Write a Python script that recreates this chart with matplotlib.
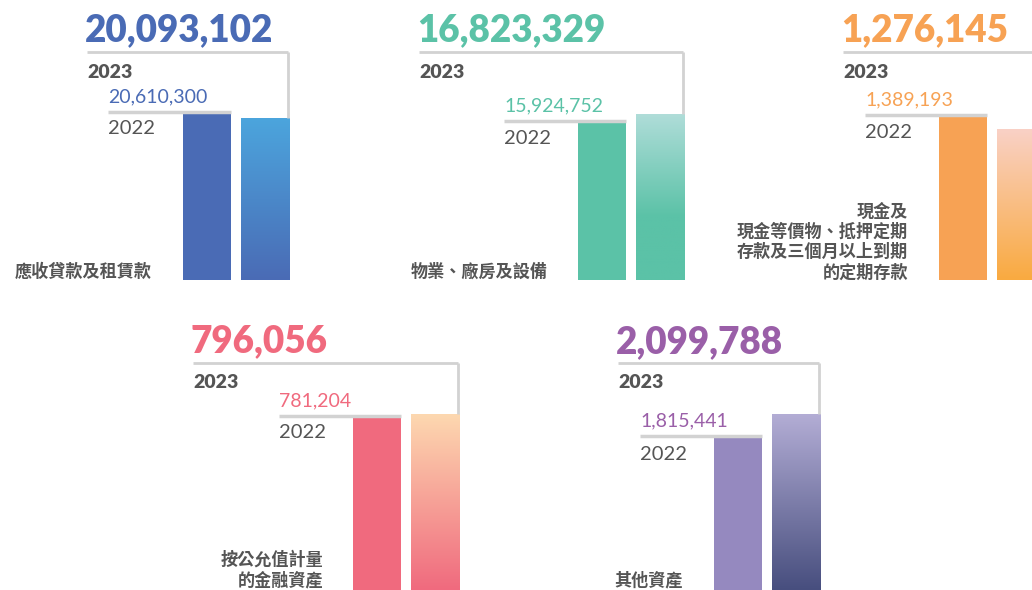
import matplotlib
matplotlib.use('Agg')
import matplotlib.pyplot as plt
import numpy as np
from matplotlib.colors import LinearSegmentedColormap

# ---------------- data ----------------
categories = ['應收貸款及租賃款',
              '物業、廠房及設備',
              '現金及\n現金等價物、抵押定期\n存款及三個月以上到期\n的定期存款',
              '按公允值計量\n的金融資產',
              '其他資產']
years = ['2022', '2023']
values_2022 = [20610300, 15924752, 1389193, 781204, 1815441]
values_2023 = [20093102, 16823329, 1276145, 796056, 2099788]

# ---------------- styles ----------------
text_colors = ['#4a6bb5', '#5bc2a7', '#f7a254', '#f06a7e', '#9a5fa8']
solid_colors = ['#4a6bb5', '#5bc2a7', '#f7a254', '#f06a7e', '#9589bf']
grad_stops = [
    [(0.0, '#4ca5dd'), (1.0, '#4a6bb5')],
    [(0.0, '#b0ddd9'), (0.62, '#5bc2a7'), (1.0, '#5bc2a7')],
    [(0.0, '#fad1c6'), (1.0, '#f9aa40')],
    [(0.0, '#fdd8b0'), (1.0, '#f06a7e')],
    [(0.0, '#b3add5'), (1.0, '#474e7e')],
]
GRAY_TXT = '#555555'
GRAY_LINE = '#d2d2d2'

# layout in pixels (figure is 1032 x 590)
W, H = 1032, 590
layout = [
    dict(x0=183, base=280, top=114, big_x=87, big_y=30, line_y=52, y23=71,
         small_x=108, small_y=97, y22=129, lab_x=152, lab_y=272),
    dict(x0=578, base=280, top=114, big_x=419, big_y=30, line_y=52, y23=71,
         small_x=504, small_y=106, y22=139, lab_x=548, lab_y=272),
    dict(x0=939, base=280, top=116, big_x=843, big_y=30, line_y=52, y23=71,
         small_x=865, small_y=100, y22=132, lab_x=908, lab_y=242),
    dict(x0=353, base=590, top=414, big_x=193, big_y=341, line_y=363, y23=381,
         small_x=279, small_y=401, y22=433, lab_x=323, lab_y=570),
    dict(x0=714, base=590, top=414, big_x=618, big_y=342, line_y=363, y23=382,
         small_x=640, small_y=421, y22=455, lab_x=683, lab_y=580),
]
PANEL_W = 106
BAR_W = 0.842

NUM_FONT = ['Lato', 'DejaVu Sans']
CJK_FONT = ['Noto Sans CJK TC', 'DejaVu Sans']

fig = plt.figure(figsize=(W / 100, H / 100), dpi=100)
fig.patch.set_facecolor('white')

bar_axes = []
for i, lay in enumerate(layout):
    ax = fig.add_axes([lay['x0'] / W, (H - lay['base']) / H,
                       PANEL_W / W, (lay['base'] - lay['top']) / H])
    vmax = max(values_2022[i], values_2023[i])
    bars = ax.bar([0, 1], [values_2022[i], values_2023[i]], width=BAR_W,
                  color=[solid_colors[i], 'none'], edgecolor='none')
    # gradient for 2023 bar
    b = bars[1]
    cmap = LinearSegmentedColormap.from_list('g%d' % i, grad_stops[i])
    grad = np.linspace(0, 1, 256).reshape(-1, 1)
    im = ax.imshow(grad, cmap=cmap, aspect='auto', origin='upper',
                   extent=[b.get_x(), b.get_x() + b.get_width(), 0, b.get_height()],
                   zorder=2)
    im.set_clip_path(b)
    ax.set_xlim(-BAR_W / 2, 1 + BAR_W / 2)
    ax.set_ylim(0, vmax)
    ax.axis('off')
    bar_axes.append((ax, bars))

# overlay axes in pixel coordinates for texts & guide lines
ov = fig.add_axes([0, 0, 1, 1])
ov.set_xlim(0, W)
ov.set_ylim(H, 0)
ov.axis('off')

fig.canvas.draw()


def to_px(ax, x, y):
    dx, dy = ax.transData.transform((x, y))
    return dx, H - dy


for i, lay in enumerate(layout):
    ax, bars = bar_axes[i]
    b1, b2 = bars
    r1x, t1y = to_px(ax, b1.get_x() + b1.get_width(), b1.get_height())
    r2x, t2y = to_px(ax, b2.get_x() + b2.get_width(), b2.get_height())
    vx = r2x - 1.5
    ov.plot([lay['big_x'], vx], [lay['line_y'], lay['line_y']], color=GRAY_LINE,
            lw=2, solid_capstyle='butt')
    ov.plot([vx, vx], [lay['line_y'], t2y], color=GRAY_LINE, lw=2,
            solid_capstyle='butt')
    ov.plot([lay['small_x'], r1x], [t1y - 1.5, t1y - 1.5], color=GRAY_LINE,
            lw=2.5, solid_capstyle='butt')

    ov.text(lay['big_x'] - 2, lay['big_y'], f"{values_2023[i]:,}", color=text_colors[i],
            fontsize=26.5, fontweight='heavy', family=NUM_FONT, ha='left', va='center')
    ov.text(lay['big_x'], lay['y23'] + 1, years[1], color=GRAY_TXT, fontsize=14,
            fontweight='heavy', family=NUM_FONT, ha='left', va='center')
    ov.text(lay['small_x'], lay['small_y'], f"{values_2022[i]:,}", color=text_colors[i],
            fontsize=14, family=NUM_FONT, ha='left', va='center')
    ov.text(lay['small_x'], lay['y22'], years[0], color=GRAY_TXT, fontsize=14.5,
            family=NUM_FONT, ha='left', va='center')
    ov.text(lay['lab_x'], lay['lab_y'], categories[i], color=GRAY_TXT, fontsize=12.3,
            fontweight='bold', family=CJK_FONT, ha='right', va='center',
            multialignment='right', linespacing=1.16)

fig.savefig('out.png', dpi=100, facecolor='white')
